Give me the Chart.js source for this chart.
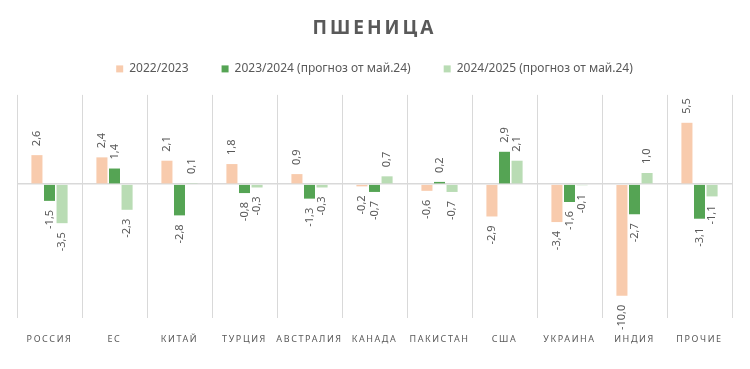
<!DOCTYPE html>
<html>
<head>
<meta charset="utf-8">
<script src="https://cdn.jsdelivr.net/npm/chart.js@4/dist/chart.umd.min.js"></script>
<style>
    html, body { margin: 0; padding: 0; background: #fff; }
    #wrap { width: 750px; height: 369px; }
</style>
</head>
<body>
<div id="wrap"><canvas id="wheatChart"></canvas></div>
<script>
// Categories and series
const categories = ['РОССИЯ', 'ЕС', 'КИТАЙ', 'ТУРЦИЯ', 'АВСТРАЛИЯ', 'КАНАДА', 'ПАКИСТАН', 'США', 'УКРАИНА', 'ИНДИЯ', 'ПРОЧИЕ'];
const seriesNames = ['2022/2023', '2023/2024 (прогноз от май.24)', '2024/2025 (прогноз от май.24)'];
const season2223 = [2.6, 2.4, 2.1, 1.8, 0.9, -0.2, -0.6, -2.9, -3.4, -10.0, 5.5];
const season2324 = [-1.5, 1.4, -2.8, -0.8, -1.3, -0.7, 0.2, 2.9, -1.6, -2.7, -3.1];
const season2425 = [-3.5, -2.3, 0.1, -0.3, -0.3, 0.7, -0.7, 2.1, -0.1, 1.0, -1.1];
const seriesColors = ['#F8CBAD', '#55A454', '#B9DCB4'];

const textGray = '#595959';
const gridGray = '#D9D9D9';

// Wrap a draw method so it runs with canvas letter spacing
function withSpacing(obj, method, spacing) {
    if (!obj || obj['_spaced_' + method]) return;
    const orig = obj[method];
    obj[method] = function(...args) {
        const ctx = this.ctx;
        ctx.save();
        ctx.letterSpacing = spacing;
        orig.apply(this, args);
        ctx.restore();
    };
    obj['_spaced_' + method] = true;
}

const spacingPlugin = {
    id: 'spacing',
    beforeInit(chart) {
        // extra room under the legend
        const legend = chart.legend;
        if (legend) {
            const origFit = legend.fit;
            legend.fit = function() {
                origFit.call(this);
                this.height += 10;
            };
        }
    },
    afterLayout(chart) {
        withSpacing(chart.titleBlock, 'draw', '3px');
        withSpacing(chart.scales.x, 'drawLabels', '1.6px');
    }
};

// Rotated value labels at bar ends
const barLabels = {
    id: 'barLabels',
    afterDatasetsDraw(chart) {
        const ctx = chart.ctx;
        ctx.save();
        ctx.font = '11px "Noto Sans"';
        ctx.fillStyle = textGray;
        ctx.textBaseline = 'middle';
        chart.data.datasets.forEach((ds, i) => {
            chart.getDatasetMeta(i).data.forEach((bar, j) => {
                const v = ds.data[j];
                const text = v.toFixed(1).replace('.', ',');
                ctx.save();
                ctx.translate(bar.x, bar.y + (v >= 0 ? -9 : 9));
                ctx.rotate(-Math.PI / 2);
                ctx.textAlign = v >= 0 ? 'left' : 'right';
                ctx.fillText(text, 0, 0);
                ctx.restore();
            });
        });
        ctx.restore();
    }
};

const datasets = [season2223, season2324, season2425].map((values, i) => ({
    label: seriesNames[i],
    data: values,
    backgroundColor: seriesColors[i],
    borderWidth: 0,
    categoryPercentage: 0.58,
    barPercentage: 0.88
}));

new Chart(document.getElementById('wheatChart'), {
    type: 'bar',
    data: { labels: categories, datasets: datasets },
    plugins: [spacingPlugin, barLabels],
    options: {
        responsive: true,
        maintainAspectRatio: false,
        animation: false,
        layout: { padding: { left: 17, right: 18, top: 6, bottom: 9 } },
        plugins: {
            title: {
                display: true,
                text: 'ПШЕНИЦА',
                color: textGray,
                font: { family: '"Noto Sans"', size: 19, weight: 'bold' },
                padding: { top: 11.5, bottom: -10.4 }
            },
            legend: {
                position: 'top',
                labels: {
                    color: textGray,
                    font: { family: '"Noto Sans"', size: 12 },
                    boxWidth: 7,
                    boxHeight: 7,
                    padding: 33
                }
            },
            tooltip: { enabled: false }
        },
        scales: {
            x: {
                grid: { color: gridGray, drawTicks: false, offset: true },
                border: { display: false },
                ticks: {
                    color: textGray,
                    font: { family: '"Noto Sans"', size: 9 },
                    padding: 15.6,
                    autoSkip: false,
                    maxRotation: 0,
                    minRotation: 0
                }
            },
            y: {
                min: -12,
                max: 8,
                grid: {
                    drawTicks: false,
                    lineWidth: 1.5,
                    color: ctx => ctx.tick && ctx.tick.value === 0 ? gridGray : 'rgba(0,0,0,0)'
                },
                border: { display: false },
                ticks: { display: false, stepSize: 1 }
            }
        }
    }
});
</script>
</body>
</html>
